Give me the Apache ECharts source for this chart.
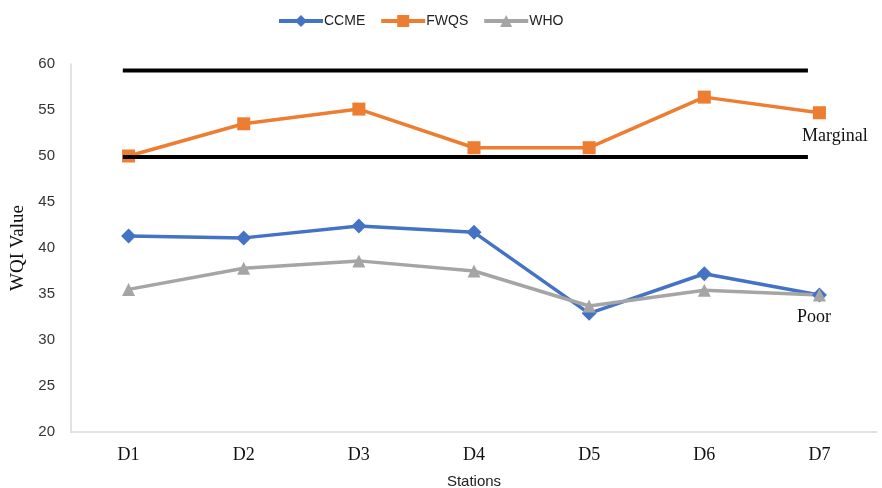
<!DOCTYPE html>
<html>
<head>
<meta charset="utf-8">
<script src="https://cdn.jsdelivr.net/npm/echarts@6/dist/echarts.min.js"></script>
<style>html,body{margin:0;padding:0;background:#fff}#c{width:882px;height:488px}</style>
</head>
<body>
<div id="c"></div>
<script>
const categories = ['D1','D2','D3','D4','D5','D6','D7'];
const ccme = [41.3, 41.1, 42.4, 41.7, 32.9, 37.2, 34.9];
const fwqs = [50.0, 53.5, 55.1, 50.9, 50.9, 56.4, 54.7];
const who  = [35.5, 37.8, 38.6, 37.5, 33.7, 35.4, 34.9];
const thresholdUpper = 59.3;
const thresholdLower = 49.9;
const thresholdSpan = [0.45, 6.4];
const yTicks = [20, 25, 30, 35, 40, 45, 50, 55, 60];

const chart = echarts.init(document.getElementById('c'));
const serif = 'Liberation Serif';
const sans = 'Liberation Sans';
chart.setOption({
  animation: false,
  legend: {
    top: 9, left: 272, itemWidth: 44, itemHeight: 15, itemGap: 14,
    lineStyle: {width: 4},
    textStyle: {fontFamily: sans, fontSize: 14, color: '#222', padding: [0,0,0,-4]},
    data: ['CCME','FWQS','WHO']
  },
  grid: {left: 71, right: 5, top: 64, bottom: 56, outerBoundsMode: 'none', containLabel: false},
  xAxis: [{
    type: 'category', data: categories, boundaryGap: true,
    axisLine: {lineStyle: {color: '#d9d9d9', width: 1.5}},
    axisTick: {show: false},
    axisLabel: {fontFamily: serif, fontSize: 18, color: '#111', margin: 14},
    name: 'Stations', nameLocation: 'middle', nameGap: 42,
    nameTextStyle: {fontFamily: sans, fontSize: 15, color: '#222'}
  }, {
    type: 'value', min: 0, max: 7, show: false
  }],
  yAxis: {
    type: 'value', min: yTicks[0], max: yTicks[yTicks.length-1], interval: 5,
    axisLine: {show: true, lineStyle: {color: '#d9d9d9', width: 1.5}},
    axisTick: {show: false},
    splitLine: {show: false},
    axisLabel: {fontFamily: sans, fontSize: 15, color: '#333', margin: 16},
    name: 'WQI Value', nameLocation: 'middle', nameGap: 38,
    nameTextStyle: {fontFamily: serif, fontSize: 19, color: '#111'}
  },
  series: [
    {type: 'line', xAxisIndex: 1, data: [[thresholdSpan[0], thresholdUpper],[thresholdSpan[1], thresholdUpper]],
     symbol: 'none', lineStyle: {color: '#000', width: 4}, silent: true, z: 1},
    {type: 'line', xAxisIndex: 1, data: [[thresholdSpan[0], thresholdLower],[thresholdSpan[1], thresholdLower]],
     symbol: 'none', lineStyle: {color: '#000', width: 4}, silent: true, z: 3},
    {name: 'CCME', type: 'line', data: ccme, symbol: 'diamond', symbolSize: 15,
     itemStyle: {color: '#4472C4'}, lineStyle: {width: 3.5, color: '#4472C4'}},
    {name: 'FWQS', type: 'line', data: fwqs, symbol: 'rect', symbolSize: 13,
     itemStyle: {color: '#ED7D31'}, lineStyle: {width: 3.5, color: '#ED7D31'}, z: 2},
    {name: 'WHO', type: 'line', data: who, symbol: 'triangle', symbolSize: 13,
     itemStyle: {color: '#A5A5A5'}, lineStyle: {width: 3.5, color: '#A5A5A5'}}
  ],
  graphic: [
    {type: 'text', left: 802, top: 127, style: {text: 'Marginal', font: '18px "Liberation Serif"', fill: '#111'}},
    {type: 'text', left: 797, top: 308, style: {text: 'Poor', font: '18px "Liberation Serif"', fill: '#111'}}
  ]
});
</script>
</body>
</html>
